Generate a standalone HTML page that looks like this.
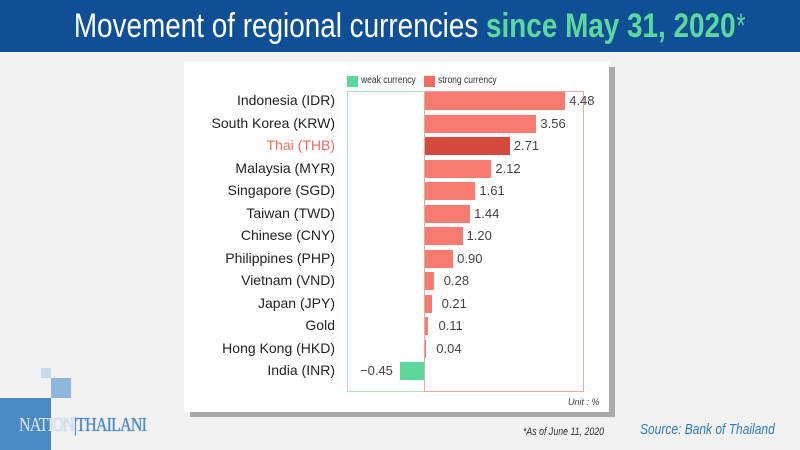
<!DOCTYPE html><html><head><style>
body{margin:0;width:800px;height:450px;background:#f2f2f2;position:relative;overflow:hidden;font-family:"Liberation Sans",sans-serif}
.hd{position:absolute;left:0;top:0;width:800px;height:52px;background:#0f4f96;color:#fff;font-size:34px;line-height:52px;text-align:center;}
.hd span{display:inline-block;transform:scaleX(0.82);white-space:nowrap;transform-origin:center}
.g{color:#5dd89d;font-weight:bold}
.a{position:absolute;white-space:nowrap}
.lab{position:absolute;right:465px;font-size:14px;color:#222;text-align:right;white-space:nowrap}
.v{position:absolute;font-size:13px;color:#444}
.bar{position:absolute;height:18px;background:#f77b6e}
.c{display:inline-block;transform:scaleX(0.85);transform-origin:left}
</style></head><body>
<div class="hd"><span>Movement of regional currencies <b class="g">since May 31, 2020</b><span class="g" style="font-weight:normal">*</span></span></div>
<div class="a" style="left:190px;top:67px;width:425px;height:350px;background:#aaa"></div>
<div class="a" style="left:184px;top:62px;width:425px;height:350px;background:#fff"></div>
<div class="a" style="left:347px;top:76px;width:11px;height:11px;background:#5dd89d"></div>
<div class="a" style="left:361px;top:75px;font-size:10px;color:#333"><span class="c">weak currency</span></div>
<div class="a" style="left:424px;top:76px;width:11px;height:11px;background:#f26b5e"></div>
<div class="a" style="left:438px;top:75px;font-size:10px;color:#333"><span class="c">strong currency</span></div>
<div class="a" style="left:347px;top:91px;width:76px;height:299px;border:1px solid #a8e3c4;border-right:none"></div>
<div class="a" style="left:424px;top:91px;width:158px;height:299px;border:1px solid #e8a9a2"></div>
<div id="rows"></div>
<script>
var d=[["Indonesia (IDR)",4.48],["South Korea (KRW)",3.56],["Thai (THB)",2.71],["Malaysia (MYR)",2.12],["Singapore (SGD)",1.61],["Taiwan (TWD)",1.44],["Chinese (CNY)",1.20],["Philippines (PHP)",0.90],["Vietnam (VND)",0.28],["Japan (JPY)",0.21],["Gold",0.11],["Hong Kong (HKD)",0.04],["India (INR)",-0.45]];
var h="";d.forEach(function(r,i){var c=101+i*22.5;var w=Math.abs(r[1])*31.3;
h+='<div class="lab" style="top:'+(c-9)+'px;'+(i==2?'color:#f26b5e':'')+'">'+r[0]+'</div>';
if(r[1]>0){h+='<div class="bar" style="left:425px;top:'+(c-9)+'px;width:'+w+'px;'+(i==2?'background:#d64a3e':'')+'"></div>';
h+='<div class="v" style="left:'+(429+w+(r[1]<0.5?6:0))+'px;top:'+(c-8)+'px">'+r[1].toFixed(2)+'</div>';}
else{h+='<div class="bar" style="left:400px;top:'+(c-9)+'px;width:24px;background:#5dd89d"></div>';
h+='<div class="v" style="left:360px;top:'+(c-8)+'px">−0.45</div>';}
});document.getElementById("rows").innerHTML=h;
</script>
<div class="a" style="left:568px;top:397px;font-size:9px;font-style:italic;color:#444">Unit : %</div>
<div class="a" style="left:523px;top:426px;font-size:11px;font-style:italic;color:#333"><span class="c" style="transform:scaleX(0.8)">*As of June 11, 2020</span></div>
<div class="a" style="left:640px;top:421px;font-size:15px;font-style:italic;color:#2f7cc4"><span class="c" style="transform:scaleX(0.8)">Source: Bank of Thailand</span></div>
<div class="a" style="left:41px;top:368px;width:10px;height:10px;background:#c6daec"></div>
<div class="a" style="left:51px;top:378px;width:20px;height:20px;background:#8fb7dd"></div>
<div class="a" style="left:0;top:398px;width:51px;height:52px;background:#4b8ac6"></div>
<div class="a" style="left:19px;top:414px;font-family:'Liberation Serif',serif;font-size:20px;color:#e4edf7;letter-spacing:-1px;text-shadow:0 0 1px #4b8ac6"><span class="c" style="transform:scaleX(0.8)">NATION<span style="color:#4b8ac6">|THAILANI</span></span></div>
</body></html>
